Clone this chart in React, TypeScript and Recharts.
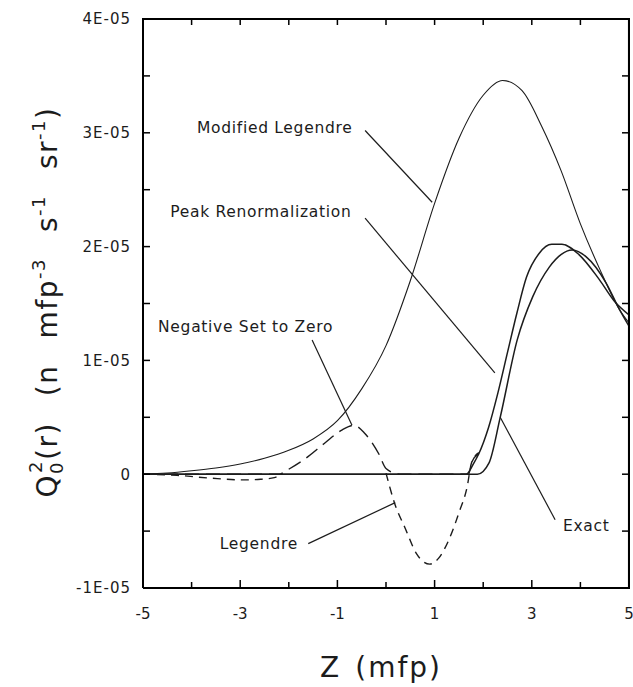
import React from 'react';
import { LineChart, Line, XAxis, YAxis, ReferenceLine, ReferenceDot } from 'recharts';

// ---- axis ticks ----
const xAllTicks = [-5, -4, -3, -2, -1, 0, 1, 2, 3, 4, 5];
const xMajorTicks = [-5, -3, -1, 1, 3, 5];
const xTickLabels = ['-5', '-3', '-1', '1', '3', '5'];
const yAllTicks = [-1, -0.5, 0, 0.5, 1, 1.5, 2, 2.5, 3, 3.5, 4];
const yMajorTicks = [-1, 0, 1, 2, 3, 4];
const yTickLabels = ['-1E-05', '0', '1E-05', '2E-05', '3E-05', '4E-05'];

// ---- series (Z in mfp, value in units of 1E-05) ----
const modifiedLegendre: [number, number][] = [
  [-5, 0], [-4.5, 0.01], [-4, 0.03], [-3.5, 0.055], [-3, 0.09], [-2.5, 0.14], [-2, 0.21],
  [-1.5, 0.31], [-1, 0.47], [-0.5, 0.75], [0, 1.13], [0.5, 1.7], [1, 2.38], [1.5, 2.95],
  [2, 3.33], [2.4, 3.46], [2.8, 3.37], [3.2, 3.06], [3.6, 2.67], [4, 2.2], [4.4, 1.8],
  [4.8, 1.45], [5, 1.33],
];
const peakRenormalization: [number, number][] = [
  [-5, 0], [1.65, 0], [1.81, 0.1], [1.91, 0.18], [2.11, 0.41], [2.3, 0.71], [2.5, 1.07],
  [2.69, 1.41], [2.89, 1.73], [3.15, 1.94], [3.41, 2.02], [3.62, 2.02], [3.97, 1.93],
  [4.39, 1.71], [4.7, 1.52], [5, 1.4],
];
const exact: [number, number][] = [
  [-5, 0], [1.88, 0], [2.12, 0.1], [2.35, 0.5], [2.7, 1.18], [3.02, 1.56], [3.36, 1.82],
  [3.6, 1.93], [3.83, 1.97], [4.12, 1.91], [4.53, 1.68], [4.8, 1.45], [5, 1.3],
];
// Legendre: where it is positive on the left it coincides with "Negative Set to Zero"
const legendre: [number, number | null][] = [
  [-5, 0], [-4.3, -0.01], [-3.6, -0.035], [-2.93, -0.05], [-2.58, -0.045], [-2.3, -0.03],
  [-2.15, 0], [-1.5, null], [0, 0.01], [0.18, -0.26], [0.39, -0.47], [0.63, -0.7],
  [0.9, -0.79], [1.08, -0.74], [1.29, -0.58], [1.5, -0.34], [1.67, -0.11], [1.76, 0.1],
  [1.91, 0.19],
];
const negativeSetToZero: [number, number][] = [
  [-5, 0], [-2.2, 0], [-2.06, 0.03], [-1.65, 0.14], [-1.27, 0.27], [-0.9, 0.39], [-0.66, 0.43],
  [-0.44, 0.36], [-0.15, 0.18], [0, 0.05], [0.28, 0], [1.7, 0], [1.76, 0.1], [1.91, 0.18],
];

// ---- annotations ----
const annotationNames = ['Modified Legendre', 'Peak Renormalization', 'Negative Set to Zero', 'Legendre', 'Exact'];
const annotationTextAt: [number, number][] = [[-3.89, 3.05], [-4.44, 2.31], [-4.69, 1.3], [-3.42, -0.61], [3.64, -0.45]];
const leaderFrom: [number, number][] = [[-0.43, 3.02], [-0.43, 2.25], [-1.52, 1.18], [-1.6, -0.61], [3.48, -0.4]];
const leaderTo: [number, number][] = [[0.95, 2.39], [2.24, 0.89], [-0.7, 0.43], [0.19, -0.25], [2.35, 0.5]];

const W = 633;
const H = 687;
const PL = 143;
const PR = 629;
const PT = 19;
const PB = 588;
const INK = '#1c1c1c';
const FRAME = '#000000';
const FONT = '"DejaVu Sans", sans-serif';

const rows = (pts: [number, number | null][]) => pts.map(([x, y]) => ({ x, y }));

// bottom axis tick: inward ticks at the bottom and at the top of the frame
const BottomTick = (p: any) => {
  const x = p.x;
  const v = p.payload.value;
  const i = xMajorTicks.indexOf(v);
  return (
    <g>
      <line x1={x} x2={x} y1={PB} y2={PB - (i >= 0 ? 8 : 6)} stroke={FRAME} strokeWidth={1.5} />
      <line x1={x} x2={x} y1={PT} y2={PT + 6} stroke={FRAME} strokeWidth={1.5} />
      {v === xAllTicks[xAllTicks.length - 1] && (
        <line x1={x} x2={x} y1={PT - 1} y2={PB + 1} stroke={FRAME} strokeWidth={2} />
      )}
      {i >= 0 && (
        <text x={x} y={619} textAnchor="middle" fontFamily={FONT} fontSize={15} fill={INK}>
          {xTickLabels[i]}
        </text>
      )}
    </g>
  );
};
// left axis tick: inward ticks on the left and on the right of the frame
const LeftTick = (p: any) => {
  const y = p.y;
  const v = p.payload.value;
  const i = yMajorTicks.indexOf(v);
  return (
    <g>
      <line x1={PL} x2={PL + 7} y1={y} y2={y} stroke={FRAME} strokeWidth={1.5} />
      <line x1={PR} x2={PR - 7} y1={y} y2={y} stroke={FRAME} strokeWidth={1.5} />
      {v === yAllTicks[yAllTicks.length - 1] && (
        <line x1={PL - 1} x2={PR + 1} y1={y} y2={y} stroke={FRAME} strokeWidth={2} />
      )}
      {i >= 0 && (
        <text x={PL - 12} y={y} dy="0.36em" textAnchor="end" fontFamily={FONT} fontSize={15} letterSpacing={1} fill={INK}>
          {yTickLabels[i]}
        </text>
      )}
    </g>
  );
};

const XTitle = () => (
  <text x={381} y={677} textAnchor="middle" fontFamily={FONT} fontSize={28} letterSpacing={2} fill={INK}>
    <tspan>Z</tspan>
    <tspan dx={14}>(mfp)</tspan>
  </text>
);

const YTitle = () => {
  const cx = 57;
  const cy = 302;
  const gap = 26;
  return (
    <text
      x={cx}
      y={cy}
      transform={`rotate(-90, ${cx}, ${cy})`}
      textAnchor="middle"
      fontFamily={FONT}
      fontSize={28}
      letterSpacing={1.5}
      fill={INK}
    >
      <tspan>Q</tspan>
      <tspan fontSize={18} dy={6}>0</tspan>
      <tspan fontSize={18} dx={-12} dy={-21}>2</tspan>
      <tspan dy={15}>(r)</tspan>
      <tspan dx={gap}>(n</tspan>
      <tspan dx={gap}>mfp</tspan>
      <tspan fontSize={18} dy={-12}>-3</tspan>
      <tspan dx={gap} dy={12}>s</tspan>
      <tspan fontSize={18} dy={-12}>-1</tspan>
      <tspan dx={gap} dy={12}>sr</tspan>
      <tspan fontSize={18} dy={-12}>-1</tspan>
      <tspan dy={12}>)</tspan>
    </text>
  );
};

const makeAnnotationLabel = (text: string) => (props: any) => {
  const vb = props.viewBox || {};
  return (
    <text x={vb.x} y={vb.y} dy="0.36em" textAnchor="start" fontFamily={FONT} fontSize={15.5} letterSpacing={0.7} fill={INK}>
      {text}
    </text>
  );
};

export default function App() {
  return (
    <div style={{ position: 'absolute', left: 0, top: 0, width: W, height: H, background: '#fff' }}>
      <LineChart width={W} height={H} margin={{ top: PT, right: W - PR, bottom: 0, left: 0 }}>
        <XAxis
          dataKey="x"
          type="number"
          domain={[-5, 5]}
          ticks={xAllTicks}
          interval={0}
          height={H - PB}
          axisLine={{ stroke: FRAME, strokeWidth: 2 }}
          tickLine={false}
          tick={BottomTick}
          label={{ content: XTitle }}
          allowDataOverflow
        />
        <YAxis
          type="number"
          domain={[-1, 4]}
          ticks={yAllTicks}
          interval={0}
          width={PL}
          axisLine={{ stroke: FRAME, strokeWidth: 2 }}
          tickLine={false}
          tick={LeftTick}
          label={{ content: YTitle }}
          allowDataOverflow
        />

        {/* top and right edges of the frame, kept just inside the domain */}
        <ReferenceLine segment={[{ x: -5, y: 3.999 }, { x: 5, y: 3.999 }]} stroke={FRAME} strokeWidth={2} ifOverflow="visible" />
        <ReferenceLine segment={[{ x: 4.999, y: -1 }, { x: 4.999, y: 4 }]} stroke={FRAME} strokeWidth={2} ifOverflow="visible" />

        <Line data={rows(modifiedLegendre)} dataKey="y" type="monotone" stroke={INK} strokeWidth={1.1} dot={false} isAnimationActive={false} />
        <Line data={rows(peakRenormalization)} dataKey="y" type="monotone" stroke={INK} strokeWidth={1.5} dot={false} isAnimationActive={false} />
        <Line data={rows(exact)} dataKey="y" type="monotone" stroke={INK} strokeWidth={1.5} dot={false} isAnimationActive={false} />
        <Line data={rows(negativeSetToZero)} dataKey="y" type="monotone" stroke={INK} strokeWidth={1.4} strokeDasharray="14 7" dot={false} isAnimationActive={false} />
        <Line data={rows(legendre)} dataKey="y" type="monotone" stroke={INK} strokeWidth={1.4} strokeDasharray="8 6" dot={false} connectNulls={false} isAnimationActive={false} />

        {annotationNames.map((name, i) => (
          <ReferenceLine
            key={`l-${name}`}
            segment={[
              { x: leaderFrom[i][0], y: leaderFrom[i][1] },
              { x: leaderTo[i][0], y: leaderTo[i][1] },
            ]}
            stroke={INK}
            strokeWidth={1.2}
            ifOverflow="visible"
          />
        ))}
        {annotationNames.map((name, i) => (
          <ReferenceDot
            key={`t-${name}`}
            x={annotationTextAt[i][0]}
            y={annotationTextAt[i][1]}
            r={0}
            fill="none"
            stroke="none"
            ifOverflow="visible"
            label={{ content: makeAnnotationLabel(name) }}
          />
        ))}
      </LineChart>
      {/* fallback outline of the top and right frame edges */}
      <div
        style={{
          position: 'absolute',
          left: PL - 1,
          top: PT - 1,
          width: PR - PL + 2,
          height: PB - PT + 2,
          boxSizing: 'border-box',
          borderTop: `2px solid ${FRAME}`,
          borderRight: `2px solid ${FRAME}`,
          pointerEvents: 'none',
        }}
      />
    </div>
  );
}
